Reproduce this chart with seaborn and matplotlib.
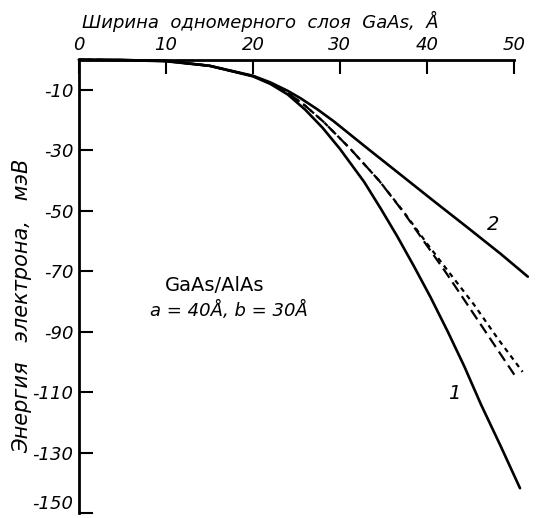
import matplotlib
matplotlib.use("Agg")
import matplotlib.pyplot as plt
import seaborn as sns
import pandas as pd

sns.set_style("ticks")
plt.rcParams['font.family'] = ['DejaVu Sans']
for key in ["text.color", "axes.labelcolor", "xtick.color", "ytick.color", "axes.edgecolor"]:
    plt.rcParams[key] = "black"

x1 = [0, 5, 10, 15, 20, 22, 24, 26, 28, 30, 32.8, 34.7, 36.6, 38.5, 40.4, 42.4, 44.3, 46.2, 48.5, 50.7]
y1 = [0, -0.1, -0.5, -2.0, -5.5, -8.0, -11.5, -16.5, -22.5, -29.5, -40.5, -49.3, -58.5, -68.3, -78.5, -90.0, -101.5, -114.0, -128.0, -141.8]

x2 = [0, 5, 10, 15, 20, 22, 24, 25.5, 27.4, 29.3, 31.2, 33.1, 37.0, 40.8, 44.7, 48.5, 51.6]
y2 = [0, -0.1, -0.4, -2.0, -5.3, -7.5, -10.3, -12.8, -16.4, -20.4, -24.8, -29.2, -38.1, -46.8, -55.6, -64.3, -71.8]

x3 = [0, 5, 10, 15, 20, 22, 24, 26, 28.1, 31.2, 34.5, 37.4, 40.0, 42.2, 44.3, 47.2, 50.2]
y3 = [0, -0.1, -0.4, -2.0, -5.4, -7.8, -11.0, -15.2, -20.5, -29.5, -40.0, -50.8, -61.5, -70.5, -79.5, -92.0, -104.9]

x4 = [0, 5, 10, 15, 20, 22, 24, 26, 28.1, 31.2, 34.5, 37.4, 40.0, 42.5, 45.4, 48.2, 51.0]
y4 = [0, -0.1, -0.4, -2.0, -5.4, -7.8, -11.0, -15.2, -20.5, -29.5, -40.0, -50.6, -60.8, -70.2, -81.0, -92.5, -103.3]

xticks = [0, 10, 20, 30, 40, 50]
yticks = [-10, -30, -50, -70, -90, -110, -130, -150]

xlabel = "Ширина  одномерного  слоя  GaAs,  Å"
ylabel = "Энергия   электрона,   мэВ"

frames = []
for name, xs, ys in [("1", x1, y1), ("2", x2, y2), ("3", x3, y3), ("4", x4, y4)]:
    frames.append(pd.DataFrame({"x": xs, "y": ys, "curve": name}))
df = pd.concat(frames, ignore_index=True)

fig = plt.figure(figsize=(5.37, 5.18), dpi=100)
ax = fig.add_axes([0.147, 0.0097, 0.81, 0.875])

styles = {"1": "-", "2": "-", "3": (0, (5, 2.5)), "4": (0, (2.2, 2.0))}
widths = {"1": 1.9, "2": 1.9, "3": 1.6, "4": 1.6}
for name in ["1", "2", "3", "4"]:
    sub = df[df["curve"] == name]
    sns.lineplot(data=sub, x="x", y="y", ax=ax, color="black", sort=False,
                 linewidth=widths[name], linestyle=styles[name],
                 legend=False, clip_on=False)

ax.set_xlim(0, 50)
ax.set_ylim(-150, 0)
ax.xaxis.tick_top()
ax.xaxis.set_label_position("top")
ax.set_xticks(xticks)
ax.set_yticks(yticks)
ax.set_xticklabels([str(v) for v in xticks], fontsize=13, style="italic")
ax.set_yticklabels([str(v) for v in yticks], fontsize=13, style="italic")
ax.get_yticklabels()[-1].set_va("bottom")
ax.tick_params(axis="x", direction="in", length=10, width=1.5, pad=4)
ax.tick_params(axis="y", direction="in", length=10, width=1.5, pad=4)
for s in ["right", "bottom"]:
    ax.spines[s].set_visible(False)
for s in ["top", "left"]:
    ax.spines[s].set_linewidth(2.0)

ax.set_xlabel(xlabel, fontsize=13, style="italic")
ax.xaxis.set_label_coords(0.416, 1.070)
ax.set_ylabel(ylabel, fontsize=15, style="italic")
ax.yaxis.set_label_coords(-0.108, 0.457)

ax.text(43.1, -110.4, "1", fontsize=14, style="italic", ha="center", va="center")
ax.text(47.6, -54.4, "2", fontsize=14, style="italic", ha="center", va="center")
ax.text(9.9, -74.6, "GaAs/AlAs", fontsize=14, ha="left", va="center")
ax.text(8.2, -82.9, "a = 40Å, b = 30Å", fontsize=13, style="italic", ha="left", va="center")

fig.savefig("out.png", dpi=100)
